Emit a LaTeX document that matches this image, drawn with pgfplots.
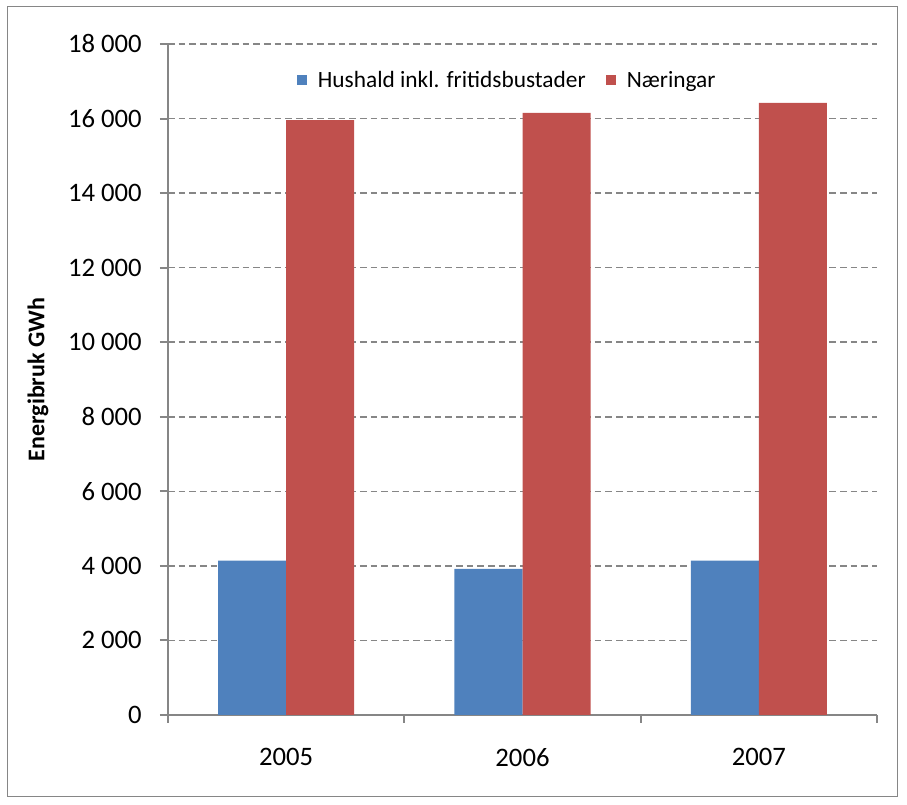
\documentclass[border=0pt]{standalone}
\usepackage{pgfplots}
\pgfplotsset{compat=1.18}
\usepackage{fontspec}
\setmainfont{Carlito}
\definecolor{barblue}{HTML}{4F81BD}
\definecolor{barred}{HTML}{C0504D}
\definecolor{axgray}{HTML}{868686}
\begin{document}
\begin{tikzpicture}
\useasboundingbox (-126pt,-67.5pt) rectangle (554.25pt,536.25pt);
\draw[axgray, line width=0.75pt] (-120pt,-61.5pt) rectangle (546.75pt,531pt);
\begin{axis}[
  scale only axis,
  width=531.75pt, height=503.25pt,
  xmin=-0.5, xmax=2.5,
  ymin=0, ymax=18000,
  scaled y ticks=false,
  axis x line*=bottom, axis y line*=left,
  axis line style={axgray, line width=1.5pt},
  ybar=0pt, bar width=51pt,
  xtick={0,1,2}, xticklabels={2005,2006,2007},
  minor xtick={-0.5,0.5,1.5,2.5},
  major x tick style={draw=none},
  minor x tick style={axgray, line width=1.5pt},
  minor tick length=6pt,
  ytick={0,2000,...,18000},
  yticklabels={0,2 000,4 000,6 000,8 000,10 000,12 000,14 000,16 000,18 000},
  ytick style={axgray, line width=1.5pt},
  major tick length=6pt,
  tick align=outside,
  ymajorgrids,
  major grid style={axgray, line width=1.1pt, dash pattern=on 5pt off 3pt},
  tick label style={font=\fontsize{20}{24}\selectfont, text=black},
  yticklabel style={anchor=east, inner sep=0pt, xshift=-13.5pt},
  xticklabel style={anchor=north, inner sep=0pt, yshift=-18.75pt},
  ylabel={\bfseries Energibruk GWh},
  ylabel style={at={(axis description cs:-0.1834,0.5)}, anchor=center, font=\fontsize{18}{21}\selectfont},
  legend columns=2,
  legend style={at={(0.477,0.946)}, anchor=center, draw=none, fill=none,
    font=\fontsize{17.5}{21}\selectfont,
    nodes={inner sep=0pt, anchor=west},
    /tikz/every even column/.append style={column sep=15pt}},
  legend image code/.code={\fill[#1] (0pt,-3.75pt) rectangle (7.5pt,3.75pt); \path (15.75pt,0pt);},
  clip=false,
]
\addplot[fill=barblue, draw=none] coordinates {(0,4140) (1,3920) (2,4140)};
\addplot[fill=barred, draw=none] coordinates {(0,15960) (1,16150) (2,16420)};
\legend{Hushald inkl. fritidsbustader, Næringar}
\end{axis}
\end{tikzpicture}
\end{document}
